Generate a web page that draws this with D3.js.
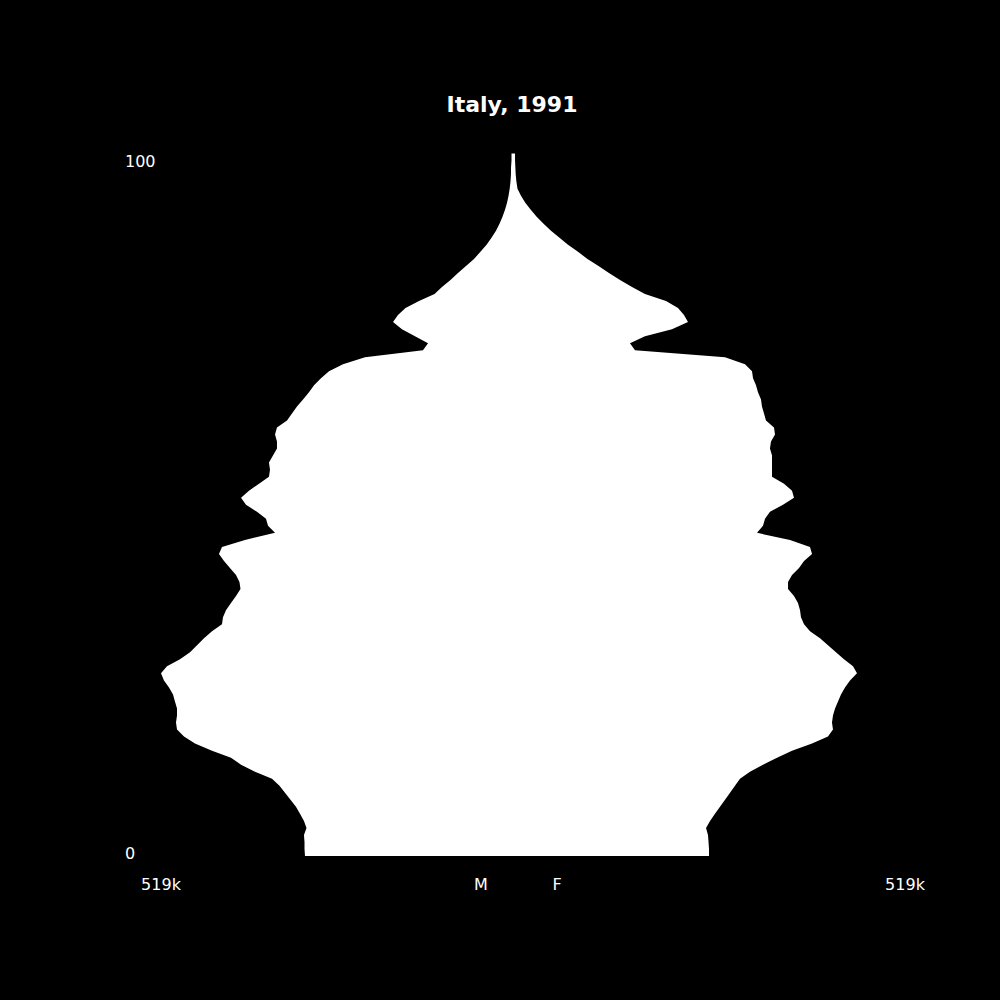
<!DOCTYPE html>
<html>
<head>
<meta charset="utf-8">
<script src="https://cdn.jsdelivr.net/npm/d3@7"></script>
<style>
  html, body { margin: 0; padding: 0; background: #000; }
  svg { display: block; font-family: "DejaVu Sans", sans-serif; }
</style>
</head>
<body>
<svg id="chart" width="1000" height="1000"></svg>
<script>
// Italy, 1991 - population by single year of age, in thousands
const ages = d3.range(0, 101);

const male = [
  306.7, 307.4, 307.4, 308.2, 304.5, 308.2, 314.1, 320.0, 328.1, 336.2,
  344.3, 355.3, 380.4, 401.0, 415.8, 443.8, 468.9, 485.1, 495.4, 496.9,
  495.4, 495.4, 498.4, 501.3, 507.2, 514.6, 519.0, 510.2, 491.0, 476.2,
  465.9, 455.6, 443.8, 429.1, 427.6, 423.2, 415.8, 408.4, 401.8, 403.3,
  408.4, 417.3, 426.1, 433.5, 429.1, 395.2, 350.9, 361.2, 364.2, 377.5,
  393.7, 401.0, 389.3, 374.5, 359.8, 358.3, 359.8, 353.9, 348.0, 348.0,
  350.9, 348.0, 333.2, 325.9, 318.5, 309.6, 300.8, 293.4, 283.1, 271.3,
  250.7, 218.2, 132.7, 125.3, 144.5, 163.7, 176.9, 169.6, 158.5, 138.6,
  115.7, 104.7, 92.2, 81.1, 69.3, 57.5, 48.0, 39.0, 31.7, 25.1,
  19.9, 15.5, 11.8, 8.8, 6.6, 4.9, 3.7, 3.0, 2.9, 2.2,
  2.2
];

const female = [
  289.0, 289.0, 288.3, 287.5, 284.6, 290.5, 297.8, 305.2, 312.6, 320.0,
  327.3, 334.7, 349.4, 368.6, 389.3, 411.4, 440.9, 464.4, 471.8, 470.3,
  471.8, 474.8, 479.2, 483.6, 489.5, 496.9, 507.2, 501.3, 488.0, 476.2,
  464.4, 452.7, 437.9, 429.1, 424.6, 423.2, 420.2, 414.3, 405.5, 405.5,
  411.4, 421.7, 429.1, 440.9, 437.9, 408.4, 359.8, 368.6, 371.6, 378.9,
  398.1, 414.3, 411.4, 399.6, 381.9, 381.9, 381.9, 381.9, 378.9, 380.4,
  386.3, 384.8, 373.0, 370.1, 367.1, 365.7, 361.2, 358.3, 353.9, 352.4,
  342.1, 312.6, 179.9, 172.5, 194.6, 234.4, 258.0, 252.1, 243.3, 225.6,
  194.6, 175.5, 157.8, 141.5, 126.1, 109.8, 95.8, 81.1, 68.6, 56.0,
  45.1, 34.9, 26.2, 18.1, 11.8, 6.6, 5.0, 4.0, 3.5, 3.0,
  3.0
];

const title = "Italy, 1991";
const ageTicks = [0, 100];
const maxLabel = "519k";
const maxValue = 519;

const svg = d3.select("#chart");
svg.append("rect").attr("width", 1000).attr("height", 1000).attr("fill", "#000");

const center = 513;

// scales
const y = d3.scaleLinear().domain([0, 100]).range([856, 153.5]);
const xM = d3.scaleLinear().domain([0, maxValue]).range([center, 161]);
const xF = d3.scaleLinear().domain([0, maxValue]).range([center, 865]);

const rows = ages.map((a, i) => ({ age: a, m: male[i], f: female[i] }));

// male side
svg.append("path")
  .datum(rows)
  .attr("fill", "#fff")
  .attr("d", d3.area()
    .y(d => y(d.age))
    .x0(center)
    .x1(d => xM(d.m)));

// female side
svg.append("path")
  .datum(rows)
  .attr("fill", "#fff")
  .attr("d", d3.area()
    .y(d => y(d.age))
    .x0(center)
    .x1(d => xF(d.f)));

// title
svg.append("text")
  .attr("x", 512)
  .attr("y", 112)
  .attr("text-anchor", "middle")
  .style("font-size", "22px")
  .style("font-weight", "bold")
  .attr("fill", "#fff")
  .text(title);

// age labels
svg.selectAll(".age-label")
  .data(ageTicks)
  .enter().append("text")
  .attr("class", "age-label")
  .attr("x", 125)
  .attr("y", d => d === 0 ? 859 : 166.5)
  .style("font-size", "16px")
  .attr("fill", "#fff")
  .text(d => d);

// bottom labels
const bottom = [
  { x: 161, t: maxLabel },
  { x: 481, t: "M" },
  { x: 557, t: "F" },
  { x: 905, t: maxLabel }
];
svg.selectAll(".bottom-label")
  .data(bottom)
  .enter().append("text")
  .attr("class", "bottom-label")
  .attr("x", d => d.x)
  .attr("y", 890)
  .attr("text-anchor", "middle")
  .style("font-size", "16px")
  .attr("fill", "#fff")
  .text(d => d.t);
</script>
</body>
</html>
